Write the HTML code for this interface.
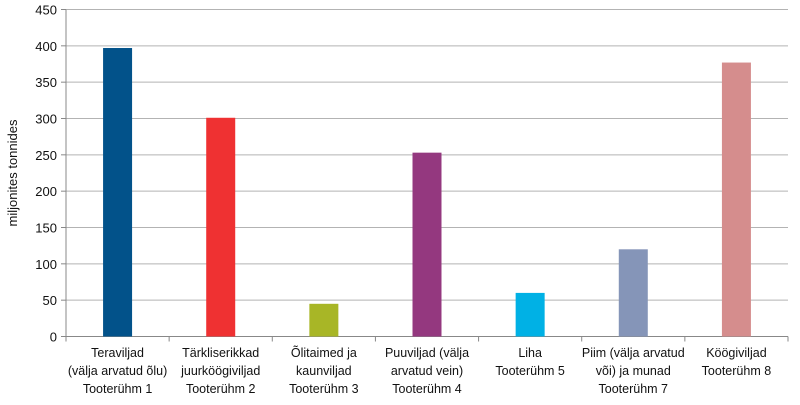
<!DOCTYPE html>
<html><head><meta charset="utf-8"><style>
body{margin:0;background:#fff;}
svg{display:block;font-family:"Liberation Sans",sans-serif;}
</style></head><body>
<svg id="chart" width="800" height="405"></svg>
<script>
const categories=[["Teraviljad","(välja arvatud õlu)","Tooterühm 1"],["Tärkliserikkad","juurköögiviljad","Tooterühm 2"],["Õlitaimed ja","kaunviljad","Tooterühm 3"],["Puuviljad (välja","arvatud vein)","Tooterühm 4"],["Liha","Tooterühm 5"],["Piim (välja arvatud","või) ja munad","Tooterühm 7"],["Köögiviljad","Tooterühm 8"]];
const values=[397,301,45,253,60,120,377];
const colors=["#02528a","#ef3132","#a8b626","#94387f","#00b1e5","#8595b8","#d58d8d"];
const yTicks=[0,50,100,150,200,250,300,350,400,450];
const NS="http://www.w3.org/2000/svg";
const svg=document.getElementById('chart');
const x0=66,x1=788,yTop=9.5,yBot=336.5,yMax=450;
const y=v=>yBot-(v/yMax)*(yBot-yTop);
const band=(x1-x0)/categories.length;
function mk(t,a){const e=document.createElementNS(NS,t);for(const k in a)e.setAttribute(k,a[k]);svg.appendChild(e);return e;}
yTicks.forEach(t=>{
 if(t>0){const g=mk('line',{x1:x0,x2:x1,y1:y(t),y2:y(t),stroke:'#b3b3b3','stroke-width':1});
 
 }
 const tk=mk('line',{x1:x0-5,x2:x0,y1:y(t),y2:y(t),stroke:'#888'});
 
 
 const l=mk('text',{x:x0-9,y:y(t)+5,'text-anchor':'end','font-size':13,fill:'#111'});
 l.textContent=t;
 
 
});
const ax=mk('line',{x1:x0,x2:x0,y1:yTop,y2:yBot,stroke:'#888'});


const xa=mk('line',{x1:x0,x2:x1,y1:yBot,y2:yBot,stroke:'#888'});


for(let i=0;i<=categories.length;i++){
 const t=mk('line',{x1:x0+i*band,x2:x0+i*band,y1:yBot,y2:yBot+5,stroke:'#888'});
 
 
}
values.forEach((v,i)=>{
 const cx=x0+band*(i+0.5),w=29;
 const r=mk('rect',{x:cx-w/2,y:y(v),width:w,height:yBot-y(v),fill:colors[i]});
 
 
 const tx=mk('text',{'text-anchor':'middle','font-size':12.5,fill:'#111'});
 
 
 categories[i].forEach((s,j)=>{const ts=document.createElementNS(NS,'tspan');ts.setAttribute('x',cx);ts.setAttribute('y',357+j*18);ts.textContent=s;tx.appendChild(ts);});
});
const yt=mk('text',{x:0,y:0,transform:'translate(17,173) rotate(-90)','text-anchor':'middle','font-size':13,fill:'#111'});
yt.textContent='miljonites tonnides';


</script>
</body></html>
